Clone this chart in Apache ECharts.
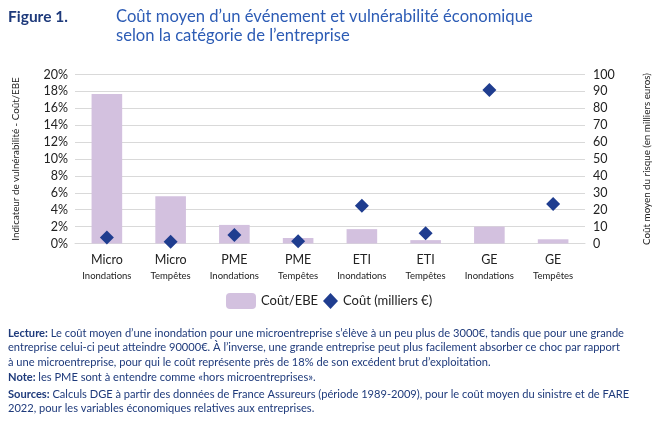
<!DOCTYPE html>
<html><head><meta charset="utf-8">
<script src="https://cdn.jsdelivr.net/npm/echarts@6/dist/echarts.min.js"></script>
<style>html,body{margin:0;padding:0;background:#fff}#c{width:668px;height:429px}</style>
</head><body><div id="c"></div>
<script>
const categories = ['Micro', 'Micro', 'PME', 'PME', 'ETI', 'ETI', 'GE', 'GE'];
const events = ['Inondations', 'Tempêtes', 'Inondations', 'Tempêtes', 'Inondations', 'Tempêtes', 'Inondations', 'Tempêtes'];
const coutEbe = [17.7, 5.6, 2.2, 0.65, 1.7, 0.4, 2.0, 0.5];
const coutMilliers = [3.5, 1.1, 5.0, 1.3, 22.4, 6.0, 90.8, 23.4];
const leftTicks = [0, 20, 2];
const rightTicks = [0, 100, 10];

const FONT = 'Lato, "Open Sans", sans-serif';
const NAVY = '#1e3a7b';
const BLUE = '#2d5cb5';
const BAR = '#d3c1df';
const DIAM = '#1f3d8f';

const chart = echarts.init(document.getElementById('c'));
const labels = categories.map((c, i) => c + '\n' + events[i]);

chart.setOption({
  animation: false,
  textStyle: { fontFamily: FONT },
  grid: { left: 75, right: 83, top: 74.5, bottom: 185.5, containLabel: false },
  legend: [
    { data: ['Coût/EBE'], left: 226, top: 293, padding: 0, itemWidth: 30, itemHeight: 16, itemGap: 6,
      textStyle: { fontFamily: FONT, fontSize: 13, color: '#222' } },
    { data: ['Coût (milliers €)'], left: 323, top: 293, padding: 0, itemWidth: 15, itemHeight: 16,
      itemStyle: { opacity: 1 },
      textStyle: { fontFamily: FONT, fontSize: 13, color: '#222' } }
  ],
  xAxis: {
    type: 'category', data: labels,
    axisTick: { show: false },
    axisLine: { lineStyle: { color: '#d9d9d9', width: 1 } },
    axisLabel: {
      interval: 0, margin: 8,
      formatter: (v) => { const p = v.split('\n'); return '{a|' + p[0] + '}\n{b|' + p[1] + '}'; },
      rich: {
        a: { fontFamily: FONT, fontSize: 12.5, color: '#222', lineHeight: 17 },
        b: { fontFamily: FONT, fontSize: 9.5, color: '#222', lineHeight: 14 }
      }
    }
  },
  yAxis: [
    { type: 'value', min: leftTicks[0], max: leftTicks[1], interval: leftTicks[2],
      name: 'Indicateur de vulnérabilité - Coût/EBE', nameLocation: 'middle', nameGap: 54, nameRotate: 90,
      nameTextStyle: { fontFamily: FONT, fontSize: 9.8, color: '#222' },
      axisLabel: { formatter: '{value}%', fontFamily: FONT, fontSize: 12.5, color: '#222', margin: 7 },
      axisLine: { show: false }, axisTick: { show: false },
      splitLine: { lineStyle: { color: '#d9d9d9', width: 1 } } },
    { type: 'value', min: rightTicks[0], max: rightTicks[1], interval: rightTicks[2],
      name: 'Coût moyen du risque (en milliers euros)', nameLocation: 'middle', nameGap: 57, nameRotate: 90,
      nameTextStyle: { fontFamily: FONT, fontSize: 9.8, color: '#222' },
      axisLabel: { fontFamily: FONT, fontSize: 12.5, color: '#222', margin: 8 },
      axisLine: { show: false }, axisTick: { show: false }, splitLine: { show: false } }
  ],
  series: [
    { name: 'Coût/EBE', type: 'bar', yAxisIndex: 0, data: coutEbe, barWidth: '48%',
      itemStyle: { color: BAR } },
    { name: 'Coût (milliers €)', type: 'scatter', yAxisIndex: 1, data: coutMilliers,
      symbol: 'diamond', symbolSize: [14, 14], itemStyle: { color: DIAM, opacity: 1 } }
  ],
  graphic: [
    { type: 'text', left: 8, top: 9, style: { text: 'Figure 1.', font: 'bold 15.5px ' + FONT, fill: NAVY } },
    { type: 'text', left: 116, top: 7, style: { text: 'Coût moyen d’un événement et vulnérabilité économique\nselon la catégorie de l’entreprise',
      font: '16.6px ' + FONT, fill: BLUE, lineHeight: 19 } },
    { type: 'text', left: 8, top: 326, style: {
      text: '{b|Lecture:} Le coût moyen d’une inondation pour une microentreprise s’élève à un peu plus de 3000€, tandis que pour une grande\nentreprise celui-ci peut atteindre 90000€. À l’inverse, une grande entreprise peut plus facilement absorber ce choc par rapport\nà une microentreprise, pour qui le coût représente près de 18% de son excédent brut d’exploitation.',
      font: '11.1px ' + FONT, fill: NAVY, lineHeight: 14.5,
      rich: { b: { font: 'bold 11.1px ' + FONT, fill: NAVY } } } },
    { type: 'text', left: 8, top: 370, style: {
      text: '{b|Note:} les PME sont à entendre comme «hors microentreprises».',
      font: '11.1px ' + FONT, fill: NAVY, lineHeight: 14.5,
      rich: { b: { font: 'bold 11.1px ' + FONT, fill: NAVY } } } },
    { type: 'text', left: 8, top: 387, style: {
      text: '{b|Sources:} Calculs DGE à partir des données de France Assureurs (période 1989-2009), pour le coût moyen du sinistre et de FARE\n2022, pour les variables économiques relatives aux entreprises.',
      font: '11.1px ' + FONT, fill: NAVY, lineHeight: 14.5,
      rich: { b: { font: 'bold 11.1px ' + FONT, fill: NAVY } } } }
  ]
});
</script></body></html>
